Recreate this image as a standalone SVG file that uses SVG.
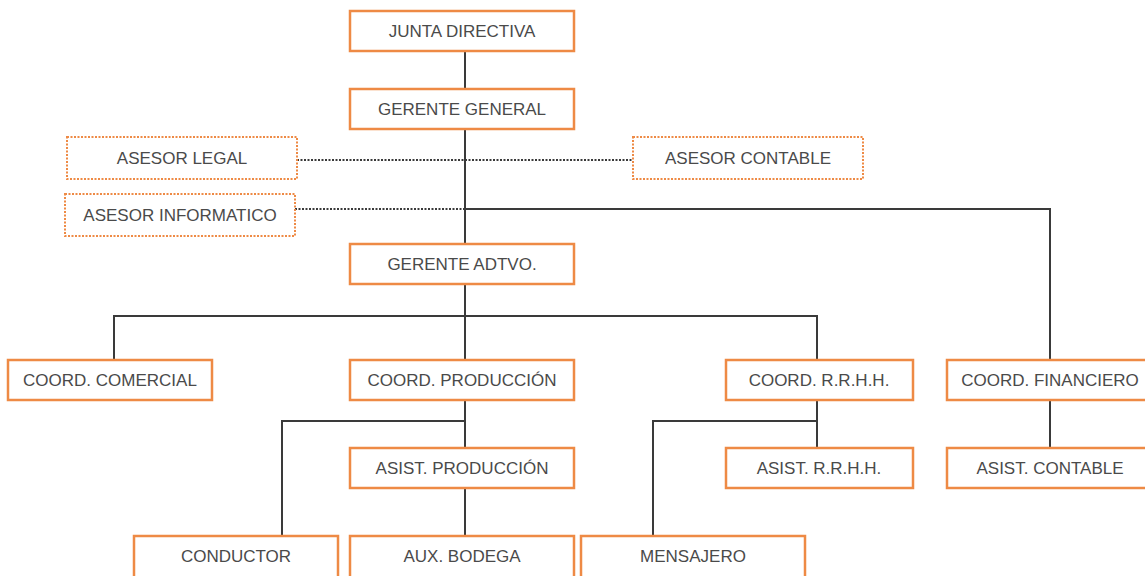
<svg xmlns="http://www.w3.org/2000/svg" width="1145" height="576" viewBox="0 0 1145 576">
<style>
.box{fill:#fff;stroke:#EE8A45;stroke-width:2.5}
.dbox{fill:#fff;stroke:#EE8A45;stroke-width:2;stroke-dasharray:2 1.5}
.t{font-family:"Liberation Sans",Arial,sans-serif;font-size:17px;fill:#4a4a4a;text-anchor:middle}
.ln{fill:none;stroke:#3a3a3a;stroke-width:2}
.dl{fill:none;stroke:#3a3a3a;stroke-width:2;stroke-dasharray:2 1.5}
</style>
<rect width="1145" height="576" fill="#fff"/>
<g id="connectors">
<line class="ln" x1="465" y1="51" x2="465" y2="89"/>
<line class="ln" x1="465" y1="129" x2="465" y2="244"/>
<line class="dl" x1="297" y1="160" x2="633" y2="160"/>
<line class="dl" x1="295" y1="209" x2="465" y2="209"/>
<polyline class="ln" points="465,209 1050,209 1050,360"/>
<line class="ln" x1="465" y1="284" x2="465" y2="360"/>
<polyline class="ln" points="114,360 114,316 817,316 817,360"/>
<line class="ln" x1="465" y1="400" x2="465" y2="448"/>
<polyline class="ln" points="282,536 282,421 465,421"/>
<line class="ln" x1="465" y1="488" x2="465" y2="536"/>
<line class="ln" x1="817" y1="400" x2="817" y2="448"/>
<polyline class="ln" points="653,536 653,421 817,421"/>
<line class="ln" x1="1050" y1="400" x2="1050" y2="448"/>
</g>
<g id="junta"><rect class="box" x="350" y="11" width="224" height="40"/><text class="t" x="462" y="37">JUNTA DIRECTIVA</text></g>
<g id="gerente-general"><rect class="box" x="350" y="89" width="224" height="40"/><text class="t" x="462" y="115">GERENTE GENERAL</text></g>
<g id="asesor-legal"><rect class="dbox" x="67" y="137" width="230" height="42"/><text class="t" x="182" y="164">ASESOR LEGAL</text></g>
<g id="asesor-contable"><rect class="dbox" x="633" y="137" width="230" height="42"/><text class="t" x="748" y="164">ASESOR CONTABLE</text></g>
<g id="asesor-informatico"><rect class="dbox" x="65" y="194" width="230" height="42"/><text class="t" x="180" y="221">ASESOR INFORMATICO</text></g>
<g id="gerente-adtvo"><rect class="box" x="350" y="244" width="224" height="40"/><text class="t" x="462" y="270">GERENTE ADTVO.</text></g>
<g id="coord-comercial"><rect class="box" x="8" y="360" width="204" height="40"/><text class="t" x="110" y="386">COORD. COMERCIAL</text></g>
<g id="coord-produccion"><rect class="box" x="350" y="360" width="224" height="40"/><text class="t" x="462" y="386">COORD. PRODUCCIÓN</text></g>
<g id="coord-rrhh"><rect class="box" x="726" y="360" width="187" height="40"/><text class="t" x="819" y="386">COORD. R.R.H.H.</text></g>
<g id="coord-financiero"><rect class="box" x="947" y="360" width="206" height="40"/><text class="t" x="1050" y="386">COORD. FINANCIERO</text></g>
<g id="asist-produccion"><rect class="box" x="350" y="448" width="224" height="40"/><text class="t" x="462" y="474">ASIST. PRODUCCIÓN</text></g>
<g id="asist-rrhh"><rect class="box" x="726" y="448" width="187" height="40"/><text class="t" x="819" y="474">ASIST. R.R.H.H.</text></g>
<g id="asist-contable"><rect class="box" x="947" y="448" width="206" height="40"/><text class="t" x="1050" y="474">ASIST. CONTABLE</text></g>
<g id="conductor"><rect class="box" x="134" y="536" width="204" height="42"/><text class="t" x="236" y="562">CONDUCTOR</text></g>
<g id="aux-bodega"><rect class="box" x="350" y="536" width="224" height="42"/><text class="t" x="462" y="562">AUX. BODEGA</text></g>
<g id="mensajero"><rect class="box" x="581" y="536" width="224" height="42"/><text class="t" x="693" y="562">MENSAJERO</text></g>
</svg>
